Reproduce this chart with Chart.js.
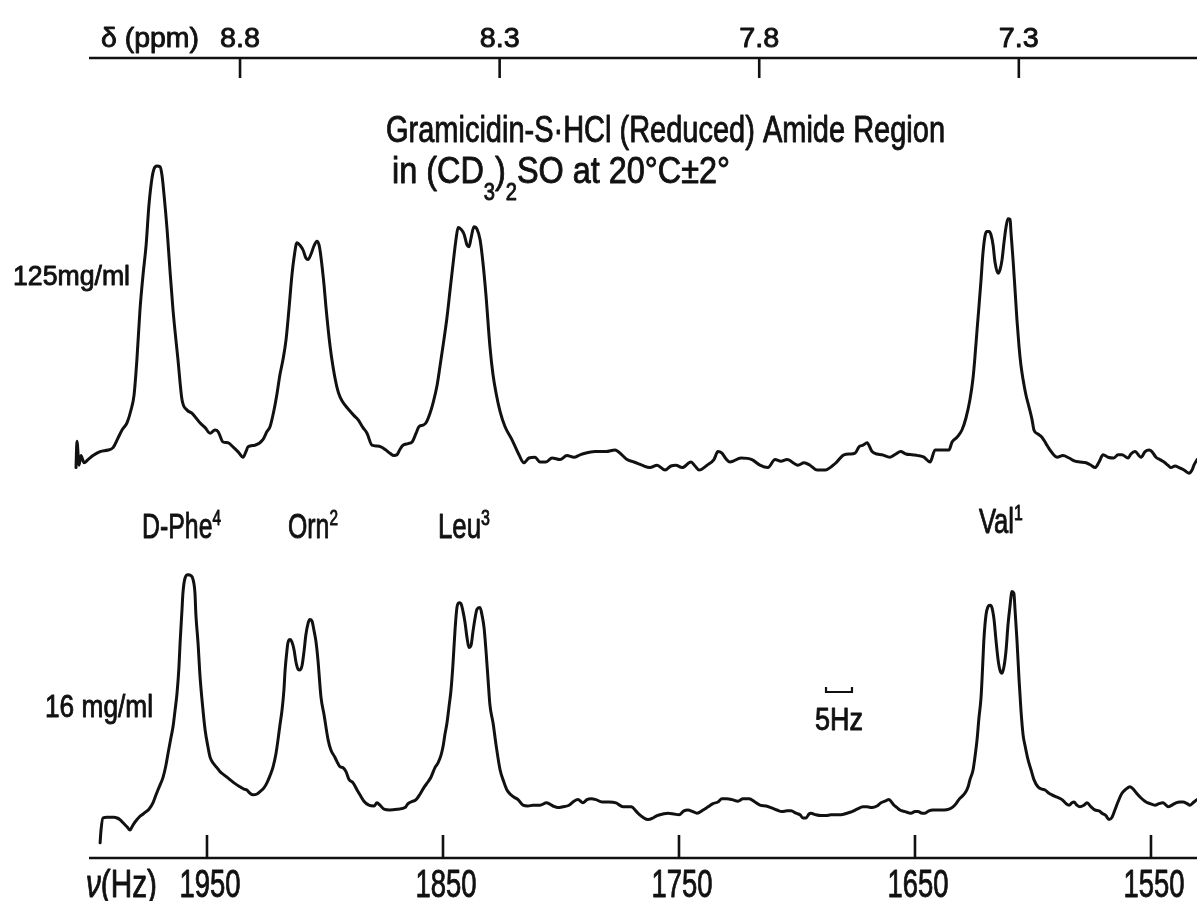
<!DOCTYPE html>
<html>
<head>
<meta charset="utf-8">
<title>Gramicidin-S·HCl (Reduced) Amide Region</title>
<script src="https://cdn.jsdelivr.net/npm/chart.js@4.4.1/dist/chart.umd.min.js"></script>
<style>
  html, body { margin: 0; padding: 0; background: #fff; }
  canvas { display: block; }
</style>
</head>
<body>
<canvas id="nmrChart" width="1197" height="901"></canvas>
<script>
// 220 MHz proton spectrum, so delta (ppm) = nu (Hz) / 220
const spectrometerMHz = 220;
const hzTicks = [1950, 1850, 1750, 1650, 1550];
const ppmTicks = [8.8, 8.3, 7.8, 7.3];
const peakNames = ['D-Phe', 'Orn', 'Leu', 'Val'];
const peakSups = ['4', '2', '3', '1'];
const concLabels = ['125mg/ml', '16 mg/ml'];

// 125 mg/ml trace (upper)
const topHz = [
  2005.5, 2005.1, 2004.2, 2003.4, 2002.1, 2000.4, 1998.3, 1995.3, 1991.9, 1989.8,
  1987.7, 1986.0, 1983.9, 1982.2, 1980.9, 1979.7, 1978.4, 1977.1, 1975.8, 1974.6,
  1973.3, 1972.5, 1971.2, 1969.9, 1969.1, 1968.2, 1966.9, 1965.7, 1964.4, 1962.3,
  1960.6, 1958.5, 1956.4, 1953.0, 1950.8, 1948.7, 1946.6, 1945.3, 1943.2, 1941.1,
  1939.0, 1936.9, 1934.7, 1933.5, 1932.6, 1929.7, 1926.3, 1924.6, 1923.3, 1921.6,
  1920.3, 1919.1, 1917.8, 1916.5, 1915.3, 1914.0, 1913.1, 1911.9, 1910.6, 1909.3,
  1908.1, 1907.2, 1905.9, 1904.7, 1903.4, 1902.5, 1901.7, 1900.4, 1899.6, 1897.9,
  1896.6, 1894.9, 1893.6, 1891.5, 1889.8, 1887.7, 1886.0, 1883.9, 1882.2, 1880.1,
  1878.0, 1876.3, 1874.2, 1872.5, 1870.8, 1869.5, 1868.2, 1866.9, 1864.8, 1863.1,
  1861.4, 1860.2, 1858.5, 1857.2, 1855.5, 1854.2, 1852.5, 1851.3, 1849.6, 1848.3,
  1847.0, 1845.8, 1844.5, 1843.6, 1842.4, 1841.1, 1839.8, 1839.0, 1838.1, 1836.9,
  1835.6, 1834.3, 1833.1, 1831.8, 1830.1, 1828.8, 1827.5, 1825.8, 1823.7, 1820.8,
  1817.8, 1815.7, 1813.6, 1811.0, 1808.9, 1806.4, 1803.8, 1800.4, 1797.5, 1794.5,
  1791.9, 1789.8, 1785.6, 1780.9, 1777.1, 1774.2, 1772.0, 1769.1, 1765.7, 1762.3,
  1759.3, 1755.9, 1753.4, 1751.3, 1748.7, 1744.9, 1743.2, 1741.5, 1738.1, 1735.2,
  1733.5, 1731.8, 1730.1, 1728.4, 1723.7, 1719.1, 1715.7, 1712.3, 1709.3, 1706.8,
  1704.2, 1699.6, 1697.0, 1694.5, 1691.5, 1688.1, 1683.5, 1680.1, 1677.5, 1675.4,
  1673.7, 1672.0, 1670.3, 1668.2, 1666.1, 1664.0, 1660.6, 1658.1, 1656.1, 1653.8,
  1651.3, 1648.7, 1646.2, 1643.6, 1641.5, 1638.1, 1635.6, 1634.3, 1632.2, 1630.1,
  1628.4, 1626.7, 1625.4, 1624.6, 1623.7, 1622.9, 1622.0, 1621.2, 1620.3, 1619.5,
  1618.6, 1617.8, 1616.9, 1616.1, 1614.8, 1614.0, 1613.1, 1612.3, 1611.4, 1610.6,
  1609.7, 1609.3, 1608.5, 1607.6, 1606.8, 1605.9, 1605.1, 1604.2, 1603.0, 1601.7,
  1600.4, 1599.6, 1597.9, 1596.2, 1594.5, 1592.8, 1589.8, 1587.3, 1584.7, 1582.2,
  1580.1, 1577.5, 1575.4, 1573.7, 1572.0, 1570.3, 1568.2, 1565.7, 1564.0, 1562.3,
  1559.7, 1558.5, 1556.8, 1554.2, 1552.5, 1550.8, 1549.6, 1547.9, 1546.2, 1544.5,
  1542.8, 1541.5, 1539.8, 1538.1, 1536.0, 1533.9, 1532.6, 1531.8, 1530.5
];
const topSignal = [
  48.8, 52.1, 49.1, 50.3, 49.4, 49.8, 50.3, 50.8, 51.0, 51.3,
  52.5, 53.5, 54.4, 56.0, 57.9, 62.3, 68.5, 72.9, 76.6, 81.6,
  85.0, 86.1, 86.5, 86.4, 85.4, 82.9, 78.5, 73.5, 68.5, 62.3,
  57.3, 56.0, 55.6, 54.4, 53.8, 53.1, 53.5, 53.3, 52.0, 51.9,
  51.4, 50.8, 50.1, 50.8, 51.4, 51.6, 52.3, 53.3, 53.9, 56.0,
  58.1, 60.4, 62.3, 64.8, 68.5, 72.9, 75.1, 76.9, 76.6, 76.0,
  75.0, 74.8, 75.5, 76.5, 77.1, 76.6, 75.1, 71.6, 68.9, 64.1,
  61.4, 58.8, 57.6, 56.6, 56.0, 55.3, 54.8, 53.8, 53.1, 51.6,
  51.5, 51.4, 51.0, 50.6, 50.3, 50.4, 51.1, 51.6, 51.8, 52.0,
  53.1, 53.9, 54.1, 54.4, 55.6, 56.9, 59.1, 61.4, 64.8, 67.6,
  71.0, 74.1, 77.3, 78.8, 78.6, 78.0, 76.6, 76.4, 77.5, 78.9,
  78.6, 77.3, 74.5, 70.4, 63.9, 60.4, 58.1, 55.8, 53.9, 52.3,
  50.4, 49.4, 50.0, 50.1, 49.5, 49.5, 50.0, 49.8, 50.3, 50.1,
  50.4, 50.6, 50.8, 50.8, 51.0, 50.4, 49.8, 49.5, 49.1, 48.8,
  49.1, 48.5, 49.0, 49.1, 48.8, 49.5, 49.0, 48.5, 49.1, 49.8,
  50.8, 50.6, 49.9, 49.5, 50.0, 49.8, 49.1, 48.8, 49.8, 49.6,
  49.8, 49.1, 49.4, 49.1, 48.5, 48.5, 49.4, 50.4, 50.5, 50.6,
  51.4, 51.6, 51.9, 50.8, 50.5, 50.4, 50.1, 50.5, 50.8, 50.5,
  50.4, 50.3, 50.1, 49.5, 51.0, 51.0, 51.0, 52.0, 52.6, 53.5,
  55.0, 57.3, 60.0, 62.6, 66.0, 68.9, 72.3, 75.6, 77.8, 78.3,
  78.3, 77.9, 76.6, 74.5, 73.1, 73.5, 74.8, 76.9, 78.9, 79.9,
  79.8, 78.1, 75.0, 71.0, 67.3, 63.9, 61.6, 59.8, 57.9, 56.4,
  54.8, 53.5, 53.0, 52.6, 51.8, 51.0, 50.1, 50.3, 50.0, 49.6,
  49.5, 49.4, 49.1, 48.8, 49.5, 50.4, 50.1, 50.0, 50.4, 50.4,
  50.0, 50.5, 50.8, 50.1, 50.8, 51.0, 50.8, 50.1, 49.8, 49.5,
  49.1, 48.8, 49.0, 48.8, 48.5, 48.1, 48.5, 49.1, 49.8
];

// 16 mg/ml trace (lower)
const botHz = [
  1995.3, 1994.9, 1994.1, 1992.4, 1991.1, 1989.4, 1988.1, 1986.9, 1985.6, 1983.9,
  1982.6, 1981.4, 1980.5, 1978.8, 1977.5, 1975.8, 1974.6, 1972.9, 1971.6, 1970.8,
  1969.5, 1968.6, 1967.4, 1966.5, 1965.3, 1964.4, 1963.6, 1962.7, 1961.9, 1961.4,
  1960.6, 1960.2, 1959.3, 1958.1, 1956.8, 1955.9, 1955.1, 1954.7, 1953.8, 1953.0,
  1951.7, 1950.8, 1949.6, 1948.7, 1947.5, 1945.8, 1944.5, 1942.4, 1940.3, 1938.1,
  1936.0, 1934.3, 1933.1, 1931.8, 1930.5, 1928.8, 1927.5, 1925.8, 1924.6, 1923.3,
  1922.0, 1920.8, 1919.9, 1919.1, 1918.2, 1917.4, 1916.9, 1916.1, 1915.7, 1914.8,
  1914.0, 1913.1, 1912.3, 1911.4, 1910.6, 1909.7, 1908.9, 1908.1, 1907.2, 1906.4,
  1905.5, 1904.7, 1903.8, 1903.0, 1901.7, 1900.4, 1898.7, 1897.5, 1895.8, 1894.5,
  1893.6, 1892.4, 1891.1, 1889.8, 1888.1, 1886.4, 1885.2, 1883.5, 1881.4, 1879.2,
  1878.0, 1876.7, 1875.0, 1872.5, 1869.1, 1866.1, 1864.8, 1863.6, 1861.4, 1859.7,
  1858.1, 1856.4, 1855.1, 1853.4, 1852.1, 1850.8, 1850.0, 1849.2, 1848.3, 1847.5,
  1846.6, 1845.8, 1844.9, 1844.1, 1843.2, 1842.4, 1841.5, 1840.7, 1839.8, 1839.0,
  1838.1, 1837.3, 1836.4, 1835.6, 1834.3, 1833.5, 1832.6, 1831.8, 1830.9, 1830.1,
  1828.8, 1827.5, 1825.8, 1824.2, 1822.9, 1821.2, 1819.9, 1818.2, 1816.1, 1814.0,
  1811.9, 1808.9, 1806.1, 1803.4, 1801.3, 1799.2, 1796.6, 1794.5, 1792.8, 1790.7,
  1789.0, 1787.3, 1785.2, 1782.6, 1779.7, 1776.7, 1773.7, 1770.3, 1767.4, 1765.3,
  1763.1, 1761.0, 1759.3, 1756.8, 1754.7, 1752.1, 1750.0, 1747.9, 1746.2, 1744.1,
  1742.4, 1739.8, 1737.7, 1735.6, 1733.5, 1731.8, 1729.7, 1727.5, 1725.0, 1722.9,
  1720.3, 1717.8, 1715.7, 1713.1, 1711.0, 1708.5, 1706.4, 1704.2, 1702.5, 1700.4,
  1698.7, 1697.5, 1696.2, 1694.9, 1694.1, 1692.0, 1689.8, 1687.7, 1685.6, 1683.5,
  1681.4, 1678.8, 1676.7, 1674.6, 1672.0, 1670.3, 1668.2, 1666.1, 1664.4, 1662.7,
  1661.0, 1659.7, 1658.9, 1657.6, 1656.4, 1654.2, 1651.7, 1650.0, 1648.7, 1647.0,
  1645.8, 1644.1, 1642.4, 1640.3, 1637.7, 1635.6, 1633.9, 1632.6, 1631.4, 1629.7,
  1628.4, 1627.5, 1626.7, 1625.4, 1624.6, 1623.7, 1622.9, 1622.0, 1621.2, 1620.8,
  1619.9, 1619.1, 1618.2, 1617.4, 1616.5, 1615.7, 1614.8, 1614.0, 1613.1, 1612.3,
  1611.4, 1610.6, 1609.7, 1608.9, 1608.1, 1607.6, 1606.8, 1605.9, 1605.1, 1604.2,
  1603.4, 1602.1, 1600.8, 1599.6, 1597.9, 1596.2, 1594.9, 1593.2, 1592.0, 1589.8,
  1587.7, 1586.0, 1584.7, 1583.5, 1582.6, 1581.4, 1580.1, 1578.4, 1577.1, 1575.4,
  1573.7, 1572.0, 1570.8, 1569.1, 1567.8, 1566.5, 1565.3, 1564.0, 1562.3, 1560.6,
  1558.9, 1557.2, 1556.1, 1554.2, 1552.1, 1550.4, 1548.3, 1546.6, 1544.9, 1543.6,
  1542.8, 1541.1, 1539.4, 1537.7, 1536.4, 1534.7, 1533.5, 1531.8, 1530.5
];
const botSignal = [
  1.9, 3.5, 5.0, 5.1, 5.1, 5.1, 5.0, 4.8, 4.4, 3.9,
  3.5, 4.1, 4.5, 5.1, 5.4, 5.8, 6.1, 6.9, 7.9, 8.5,
  9.4, 10.1, 11.6, 13.1, 15.0, 16.4, 18.3, 20.6, 23.8, 26.9,
  31.0, 33.1, 35.0, 35.4, 35.3, 34.8, 33.1, 30.4, 26.9, 22.9,
  18.5, 16.0, 13.9, 12.6, 11.9, 11.3, 10.8, 10.3, 9.8, 9.3,
  8.9, 8.6, 8.5, 8.1, 7.9, 8.0, 8.3, 8.8, 9.4, 10.3,
  11.4, 13.0, 14.8, 16.6, 18.5, 21.0, 23.5, 26.0, 26.9, 27.3,
  27.0, 26.0, 24.5, 23.6, 23.5, 24.1, 25.8, 27.9, 29.3, 29.8,
  29.6, 28.5, 27.0, 24.8, 20.1, 17.9, 14.8, 13.5, 12.6, 11.8,
  11.4, 11.3, 10.8, 9.8, 9.4, 8.5, 7.9, 7.1, 6.6, 6.5,
  6.9, 6.6, 6.1, 6.0, 6.1, 6.3, 6.8, 7.0, 7.3, 8.0,
  8.8, 9.5, 10.1, 11.3, 11.9, 12.9, 13.9, 15.4, 16.9, 18.8,
  21.0, 24.1, 28.5, 31.3, 31.9, 31.8, 30.8, 29.5, 27.5, 26.3,
  26.6, 28.3, 30.0, 31.1, 31.3, 30.4, 28.8, 26.0, 22.3, 19.1,
  16.9, 14.1, 11.0, 9.5, 8.5, 7.9, 7.6, 7.3, 6.6, 6.5,
  6.6, 6.6, 6.9, 6.5, 6.3, 6.4, 6.6, 7.1, 7.3, 6.9,
  7.3, 7.4, 7.3, 7.0, 7.0, 6.9, 6.4, 6.4, 5.6, 5.1,
  4.8, 5.0, 5.3, 5.5, 5.6, 5.5, 5.4, 5.9, 6.0, 5.8,
  5.6, 6.0, 6.4, 6.8, 7.0, 7.4, 7.4, 7.3, 7.1, 7.4,
  7.4, 7.0, 6.6, 6.5, 6.3, 6.0, 5.8, 5.9, 5.9, 5.6,
  5.4, 5.0, 5.0, 5.5, 5.6, 5.4, 5.3, 5.3, 5.4, 5.4,
  5.4, 5.6, 5.8, 6.1, 6.4, 6.4, 6.3, 6.5, 6.9, 7.1,
  7.3, 6.9, 6.6, 6.3, 6.0, 5.8, 5.6, 5.8, 5.8, 5.6,
  5.6, 5.9, 6.0, 6.0, 6.0, 6.1, 6.4, 6.8, 7.3, 7.8,
  8.3, 8.9, 9.8, 11.0, 12.6, 14.8, 17.5, 20.1, 24.8, 27.3,
  30.4, 31.4, 31.6, 31.3, 29.8, 27.3, 24.8, 23.5, 23.1, 23.9,
  26.0, 29.1, 31.6, 33.3, 33.1, 31.0, 27.3, 22.3, 18.5, 15.4,
  14.1, 12.3, 11.0, 9.8, 8.9, 8.6, 8.5, 8.1, 7.9, 7.6,
  7.3, 6.8, 6.6, 6.9, 7.0, 6.6, 6.4, 6.6, 6.9, 6.4,
  6.0, 5.9, 5.6, 5.3, 4.8, 5.1, 6.0, 7.0, 8.1, 8.6,
  8.9, 8.5, 8.1, 7.5, 7.0, 6.8, 6.6, 6.8, 6.9, 6.6,
  6.4, 6.6, 6.9, 7.0, 7.0, 6.8, 6.6, 7.0, 7.3
];

const INK = '#111';
const FONT = '"Liberation Sans", Arial, sans-serif';

// draws text squeezed to a given width, the lettering in the figure is tall and narrow
function drawText(ctx, parts, x, y, size, width, align) {
  if (typeof parts === 'string') parts = [{ t: parts }];
  const small = p => p.k === 'sup' || p.k === 'sub';
  const fontOf = p => (p.k === 'it' ? 'italic ' : '') + (small(p) ? size * 0.62 : size) + 'px ' + FONT;
  let natural = 0;
  parts.forEach(p => { ctx.font = fontOf(p); p.w = ctx.measureText(p.t).width; natural += p.w; });
  const sx = width / natural;
  const left = align === 'center' ? x - width / 2 : x;
  ctx.save();
  ctx.translate(left, y);
  ctx.scale(sx, 1);
  ctx.fillStyle = INK;
  ctx.strokeStyle = INK;
  ctx.lineWidth = 0.9;
  ctx.lineJoin = 'round';
  ctx.textBaseline = 'alphabetic';
  ctx.textAlign = 'left';
  let cx = 0;
  parts.forEach(p => {
    ctx.font = fontOf(p);
    const dy = p.k === 'sup' ? -size * 0.36 : p.k === 'sub' ? size * 0.45 : 0;
    ctx.fillText(p.t, cx, dy);
    ctx.strokeText(p.t, cx, dy);
    cx += p.w;
  });
  ctx.restore();
}

const axesAndLabels = {
  id: 'axesAndLabels',
  afterDatasetsDraw(chart) {
    const { ctx, chartArea: a, scales: { x, ppm } } = chart;
    ctx.save();
    ctx.strokeStyle = INK;
    ctx.lineWidth = 2.6;
    ctx.lineCap = 'butt';
    const x0 = x.getPixelForValue(2000);

    // delta axis on top, ticks hang down
    ctx.beginPath();
    ctx.moveTo(x0, a.top);
    ctx.lineTo(a.right, a.top);
    ppmTicks.forEach(p => {
      const px = ppm.getPixelForValue(p);
      ctx.moveTo(px, a.top);
      ctx.lineTo(px, a.top + 20);
    });
    // frequency axis at the bottom, ticks stand up
    ctx.moveTo(x0, a.bottom);
    ctx.lineTo(a.right, a.bottom);
    hzTicks.forEach(h => {
      const px = x.getPixelForValue(h);
      ctx.moveTo(px, a.bottom);
      ctx.lineTo(px, a.bottom - 23);
    });
    ctx.stroke();

    // tick labels
    ppmTicks.forEach(p => drawText(ctx, p.toFixed(1), ppm.getPixelForValue(p), 47, 28, 40, 'center'));
    hzTicks.forEach(h => drawText(ctx, String(h), x.getPixelForValue(h) + 3, 897, 39, 61, 'center'));
    drawText(ctx, 'δ (ppm)', 101, 47, 28, 98);
    drawText(ctx, [{ t: 'ν', k: 'it' }, { t: '(Hz)' }], 86, 897, 39, 71);

    // title
    drawText(ctx, 'Gramicidin-S·HCl (Reduced) Amide Region', 386, 142, 37.7, 559);
    drawText(ctx, [{ t: 'in (CD' }, { t: '3', k: 'sub' }, { t: ')' }, { t: '2', k: 'sub' }, { t: 'SO at 20°C±2°' }],
      392, 183, 37.7, 338);

    // concentrations
    drawText(ctx, concLabels[0], 13, 285, 28, 117);
    drawText(ctx, concLabels[1], 45, 717, 32, 108);

    // residue assignments, centred over the peaks
    const centres = [1960.8, 1905.1, 1841.1, 1613.6];
    const widths = [79, 50, 52, 44];
    const bases = [538, 538, 538, 533];
    peakNames.forEach((n, i) => {
      drawText(ctx, [{ t: n }, { t: peakSups[i], k: 'sup' }], x.getPixelForValue(centres[i]), bases[i], 35, widths[i], 'center');
    });

    // 5 Hz scale bar
    const b0 = x.getPixelForValue(1687.7), b1 = x.getPixelForValue(1676.7);
    ctx.lineWidth = 2.2;
    ctx.beginPath();
    ctx.moveTo(b0, 687);
    ctx.lineTo(b0, 692);
    ctx.lineTo(b1, 692);
    ctx.lineTo(b1, 687);
    ctx.stroke();
    drawText(ctx, '5Hz', 815, 730, 32, 48);
    ctx.restore();
  }
};

const traceStyle = {
  fill: false,
  borderColor: INK,
  borderWidth: 3,
  pointRadius: 0,
  cubicInterpolationMode: 'monotone',
  borderJoinStyle: 'round',
  borderCapStyle: 'round'
};

new Chart(document.getElementById('nmrChart'), {
  type: 'line',
  data: {
    datasets: [
      { label: concLabels[0], data: topHz.map((h, i) => ({ x: h, y: topSignal[i] })), ...traceStyle },
      { label: concLabels[1], data: botHz.map((h, i) => ({ x: h, y: botSignal[i] })), ...traceStyle }
    ]
  },
  options: {
    responsive: false,
    animation: false,
    events: [],
    layout: { padding: { left: 65.4, right: 0, top: 58, bottom: 43 } },
    plugins: { legend: { display: false }, tooltip: { enabled: false } },
    scales: {
      x: { type: 'linear', reverse: true, min: 1530.5, max: 2010, display: false },
      ppm: {
        type: 'linear', axis: 'x', position: 'top', reverse: true,
        min: 1530.5 / spectrometerMHz, max: 2010 / spectrometerMHz, display: false
      },
      y: { type: 'linear', min: 0, max: 100, display: false }
    }
  },
  plugins: [axesAndLabels]
});
</script>
</body>
</html>
